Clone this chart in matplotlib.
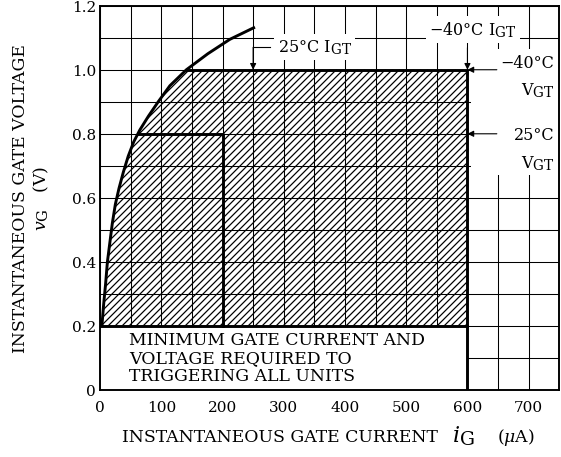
import matplotlib
matplotlib.use("Agg")
from matplotlib import pyplot as plt
import matplotlib._mathtext as mt
import numpy as np

# gate trigger characteristic
curve_i = [3, 6, 9, 12, 16, 20, 25, 31, 38, 46, 55, 65, 79, 95, 114, 141, 176, 212, 253]
curve_v = [0.20, 0.27, 0.33, 0.40, 0.46, 0.52, 0.58, 0.63, 0.68, 0.73, 0.775, 0.812,
           0.855, 0.90, 0.95, 1.00, 1.05, 1.095, 1.133]

v_min = 0.2          # lower edge of the trigger area
igt_25 = 200         # 25C IGT (inner box)
vgt_25 = 0.8         # 25C VGT
igt_m40 = 600        # -40C IGT
vgt_m40 = 1.0        # -40C VGT
igt_25_mark = 250    # where the 25C IGT arrow points

x_ticks = [0, 100, 200, 300, 400, 500, 600, 700]
y_ticks = [0, 0.2, 0.4, 0.6, 0.8, 1.0, 1.2]
y_tick_labels = ["0", "0.2", "0.4", "0.6", "0.8", "1.0", "1.2"]

# 84 dpi so the hatch comes out at about 7 px pitch
DPI = 84
plt.rcParams["font.family"] = "DejaVu Serif"
plt.rcParams["mathtext.fontset"] = "dejavuserif"
plt.rcParams["hatch.linewidth"] = 1.05
mt.SHRINK_FACTOR = 0.85   # subscripts nearly full size, as in the data sheet

big = 14.8
small = 13.7
tick_size = 13.1

W, H = 561, 457
fig = plt.figure(figsize=(W + 0.3) / DPI * np.array([1, (H + 0.3) / (W + 0.3)]), dpi=DPI)
ax = fig.add_axes([100 / W, 1 - 390 / H, 459 / W, 384 / H])
ax.set_xlim(0, 750)
ax.set_ylim(0, 1.2)

ax.set_xticks(x_ticks)
ax.set_xticks(np.arange(0, 751, 50), minor=True)
ax.set_yticks(y_ticks)
ax.set_yticklabels(y_tick_labels)
ax.set_yticks(np.arange(0, 1.21, 0.1), minor=True)
ax.tick_params(which="both", length=0, labelsize=tick_size)
ax.tick_params(axis="x", pad=9.5)
ax.tick_params(axis="y", pad=3.5)
ax.grid(which="both", color="black", lw=0.9, zorder=1.5)
for s in ax.spines.values():
    s.set_linewidth(1.65)

ci = np.array(curve_i, dtype=float)
cv = np.array(curve_v)
m = cv <= vgt_m40
ax.fill_betweenx(cv[m], ci[m], igt_m40, facecolor="none", edgecolor="black",
                 hatch="////", linewidth=0, zorder=1)

# white box for the note
ax.fill_between([0, igt_m40], 0, v_min, color="white", lw=0, zorder=2)
ax.text(47, 0.10, "MINIMUM GATE CURRENT AND\nVOLTAGE REQUIRED TO\nTRIGGERING ALL UNITS",
        fontsize=big, va="center", ha="left", linespacing=1.08, zorder=4)

# thick outlines
lw = 2.5
ax.plot(curve_i, curve_v, color="black", lw=lw, zorder=3, solid_capstyle="butt")
i_top = np.interp(vgt_m40, cv, ci)
ax.plot([i_top, igt_m40, igt_m40], [vgt_m40, vgt_m40, 0], color="black", lw=lw, zorder=3)
ax.plot([0, igt_m40], [v_min, v_min], color="black", lw=lw, zorder=3)
i_25 = np.interp(vgt_25, cv, ci)
ax.plot([i_25, igt_25, igt_25], [vgt_25, vgt_25, v_min], color="black", lw=lw, zorder=3)

arrow = dict(arrowstyle="-|>", color="black", lw=0.95, mutation_scale=10.7, shrinkA=0, shrinkB=0)

# labels on the right
ax.fill_between([605, 750], 0.67, 1.065, color="white", lw=0, zorder=2)
ax.annotate("", xy=(igt_m40, vgt_m40), xytext=(648, vgt_m40), arrowprops=arrow, zorder=3)
ax.annotate("", xy=(igt_m40, vgt_25), xytext=(648, vgt_25), arrowprops=arrow, zorder=3)
ax.text(742, 1.022, "\u221240\u00b0C", fontsize=small, ha="right", va="center", zorder=4)
ax.text(742, 0.935, r"V$_{\rm GT}$", fontsize=small, ha="right", va="center", zorder=4)
ax.text(742, 0.797, "25\u00b0C", fontsize=small, ha="right", va="center", zorder=4)
ax.text(742, 0.708, r"V$_{\rm GT}$", fontsize=small, ha="right", va="center", zorder=4)

# labels on top
ax.text(609, 1.125, "\u221240\u00b0C I$_{\\rm GT}$", fontsize=small, ha="center", va="center",
        zorder=4, bbox=dict(facecolor="white", edgecolor="none", pad=3))
ax.annotate("", xy=(igt_m40, vgt_m40), xytext=(igt_m40, 1.069), arrowprops=arrow, zorder=3)

ax.text(290, 1.07, "25\u00b0C I$_{\\rm GT}$", fontsize=small, ha="left", va="center",
        zorder=4, bbox=dict(facecolor="white", edgecolor="none", pad=3))
ax.plot([igt_25_mark, 278], [1.07, 1.07], color="black", lw=0.95, zorder=3)
ax.annotate("", xy=(igt_25_mark, vgt_m40), xytext=(igt_25_mark, 1.07), arrowprops=arrow, zorder=3)

# axis titles
base = 1 - 442 / H
fig.text(279.5 / W, base, "INSTANTANEOUS GATE CURRENT", fontsize=big, ha="center", va="baseline")
fig.text(452 / W, base, r"$i_{\rm G}$", fontsize=19, ha="left", va="baseline")
fig.text(497 / W, base, r"($\mu$A)", fontsize=big, ha="left", va="baseline")
fig.text(20 / W, 1 - 198 / H, "INSTANTANEOUS GATE VOLTAGE", rotation=90,
         fontsize=big, ha="center", va="center")
fig.text(41 / W, 1 - 198 / H, r"$v_{\rm G}$   (V)", rotation=90,
         fontsize=big, ha="center", va="center")

fig.savefig("out.png", dpi=DPI)
